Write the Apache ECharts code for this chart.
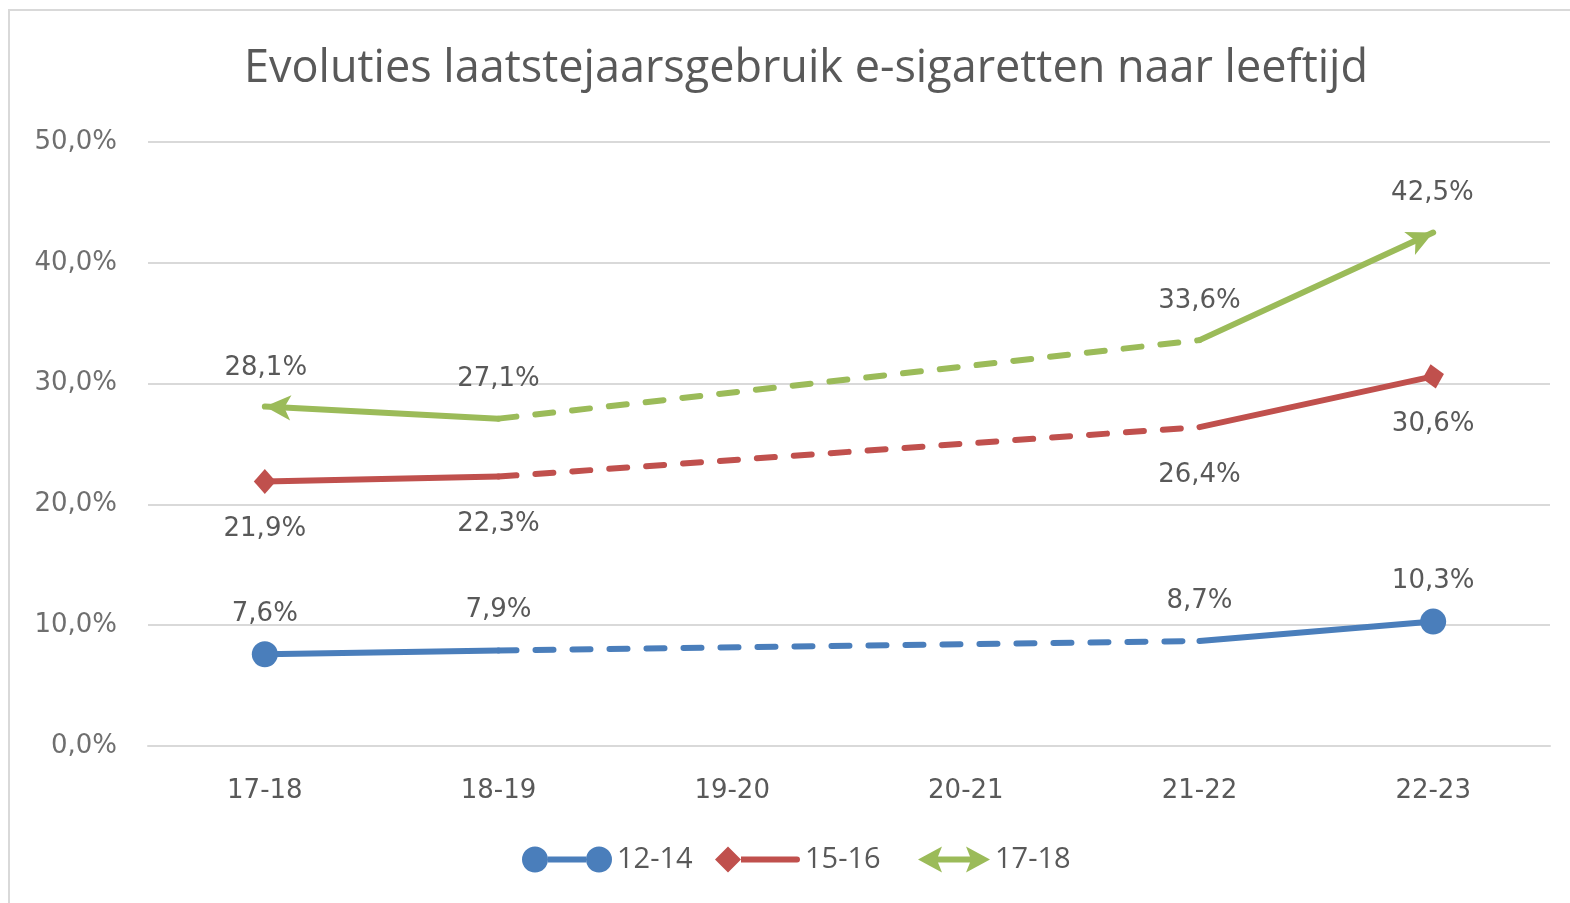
<!DOCTYPE html>
<html>
<head>
<meta charset="utf-8">
<script src="https://cdn.jsdelivr.net/npm/echarts@6/dist/echarts.min.js"></script>
<style>
  html, body { margin: 0; padding: 0; background: #ffffff; }
  #chart { width: 1570px; height: 903px; }
</style>
</head>
<body>
<div id="chart"></div>
<script>
// schooljaren
const categories = ['17-18', '18-19', '19-20', '20-21', '21-22', '22-23'];
// leeftijdsgroepen
const groups = ['12-14', '15-16', '17-18'];
// laatstejaarsgebruik in % (geen meting in 19-20 en 20-21)
const values1214 = [7.6, 7.9, null, null, 8.7, 10.3];
const values1516 = [21.9, 22.3, null, null, 26.4, 30.6];
const values1718 = [28.1, 27.1, null, null, 33.6, 42.5];
// y-as
const yMin = 0;
const yMax = 50;
const yStep = 10;

const colors = ['#4a7ebb', '#c0504d', '#9bbb59'];
const labelColor = '#595959';
const font = '"Open Sans", "Noto Sans", sans-serif';
const numFont = '"DejaVu Sans", Verdana, sans-serif';

// lijnuiteinden (opmaak per groep: begin en eind)
const endMarks = [
    [{ symbol: 'circle', symbolSize: 26 }, { symbol: 'circle', symbolSize: 26 }],
    [{ symbol: 'diamond', symbolSize: [22, 25] }, { symbol: 'diamond', symbolSize: [22, 25], symbolRotate: 12 }],
    [
        { symbol: 'arrow', symbolSize: [19, 26], symbolRotate: 87, labelShift: [-12, 0] },
        { symbol: 'arrow', symbolSize: [19, 26], symbolRotate: -65, labelShift: [11, -6] }
    ]
];
// label boven (-1) of onder (+1) de lijn
const labelSide = [-1, 1, -1];
const labelDist = [40, 48, 39];

const fmt = v => v.toFixed(1).replace('.', ',') + '%';

function solidData(values, g) {
    const first = values.findIndex(v => v != null);
    const last = values.length - 1 - [...values].reverse().findIndex(v => v != null);
    return values.map((v, i) => {
        if (v == null) return null;
        let mark = { symbol: 'circle', symbolSize: 1 };
        if (i === first) mark = endMarks[g][0];
        if (i === last) mark = endMarks[g][1];
        const shift = mark.labelShift || [0, 0];
        return {
            value: v,
            symbol: mark.symbol,
            symbolSize: mark.symbolSize,
            symbolRotate: mark.symbolRotate || 0,
            label: {
                offset: [shift[0], shift[1] + labelSide[g] * labelDist[g]]
            }
        };
    });
}

// gestippeld deel: overbrugt de jaren zonder meting
function dashedData(values) {
    return values.map((v, i) => {
        if (v == null) return null;
        const gapBefore = i > 0 && values[i - 1] == null;
        const gapAfter = i < values.length - 1 && values[i + 1] == null;
        return (gapBefore || gapAfter) ? v : null;
    });
}

const allValues = [values1214, values1516, values1718];
const series = [];
allValues.forEach((values, g) => {
    series.push({
        name: groups[g],
        type: 'line',
        data: dashedData(values),
        connectNulls: true,
        showSymbol: false,
        color: colors[g],
        lineStyle: { width: 6, type: [18, 19], cap: 'round', color: colors[g] },
        silent: true,
        z: 2
    });
});
allValues.forEach((values, g) => {
    series.push({
        name: groups[g],
        type: 'line',
        data: solidData(values, g),
        connectNulls: false,
        color: colors[g],
        itemStyle: { color: colors[g] },
        lineStyle: { width: 6, cap: 'round', join: 'round', color: colors[g] },
        label: {
            show: true,
            position: 'inside',
            formatter: p => fmt(p.value),
            color: labelColor,
            fontSize: 26,
            fontFamily: numFont
        },
        silent: true,
        z: 3
    });
});

const legendIcons = [
    'path://M0,13 A13,13 0 1 0 26,13 A13,13 0 1 0 0,13 Z M64,13 A13,13 0 1 0 90,13 A13,13 0 1 0 64,13 Z M26,10 L64,10 L64,16 L26,16 Z',
    'path://M0,13 L13,0 L26,13 L13,26 Z M26,10 L82,10 A3,3 0 0 1 82,16 L26,16 Z',
    'path://M0,13 L24,0 L20,10 L52,10 L48,0 L72,13 L48,26 L52,16 L20,16 L24,26 Z'
];
const legendLeft = [522, 715, 918];
const legendSize = [[90, 26], [85, 26], [72, 26]];

const legends = groups.map((name, g) => ({
    left: legendLeft[g],
    top: 845,
    padding: 0,
    itemWidth: legendSize[g][0],
    itemHeight: legendSize[g][1],
    itemStyle: { borderWidth: 0 },
    textStyle: { color: labelColor, fontSize: 29, fontFamily: font },
    selectedMode: false,
    data: [{ name: name, icon: legendIcons[g] }]
}));

const chart = echarts.init(document.getElementById('chart'), null, { renderer: 'canvas' });
chart.setOption({
    animation: false,
    backgroundColor: '#ffffff',
    title: {
        text: 'Evoluties laatstejaarsgebruik e-sigaretten naar leeftijd',
        left: 801,
        textAlign: 'center',
        top: 42,
        textStyle: { color: labelColor, fontSize: 45, fontWeight: 'normal', fontFamily: font }
    },
    graphic: [{
        type: 'rect',
        shape: { x: 9, y: 10, width: 1600, height: 1000 },
        style: { fill: 'none', stroke: '#d9d9d9', lineWidth: 2 },
        silent: true
    }],
    legend: legends,
    grid: { left: 148, right: 20, top: 142, bottom: 157 },
    xAxis: {
        type: 'category',
        data: categories,
        boundaryGap: true,
        axisLine: { lineStyle: { color: '#d9d9d9', width: 2 } },
        axisTick: { show: false },
        axisLabel: { color: labelColor, fontSize: 26, fontFamily: numFont, margin: 32 }
    },
    yAxis: {
        type: 'value',
        min: yMin,
        max: yMax,
        interval: yStep,
        axisLine: { show: false },
        axisTick: { show: false },
        splitLine: { lineStyle: { color: '#d9d9d9', width: 2 } },
        axisLabel: { color: '#6f6f6f', fontSize: 26, fontFamily: numFont, margin: 31, formatter: fmt }
    },
    series: series
});
</script>
</body>
</html>
